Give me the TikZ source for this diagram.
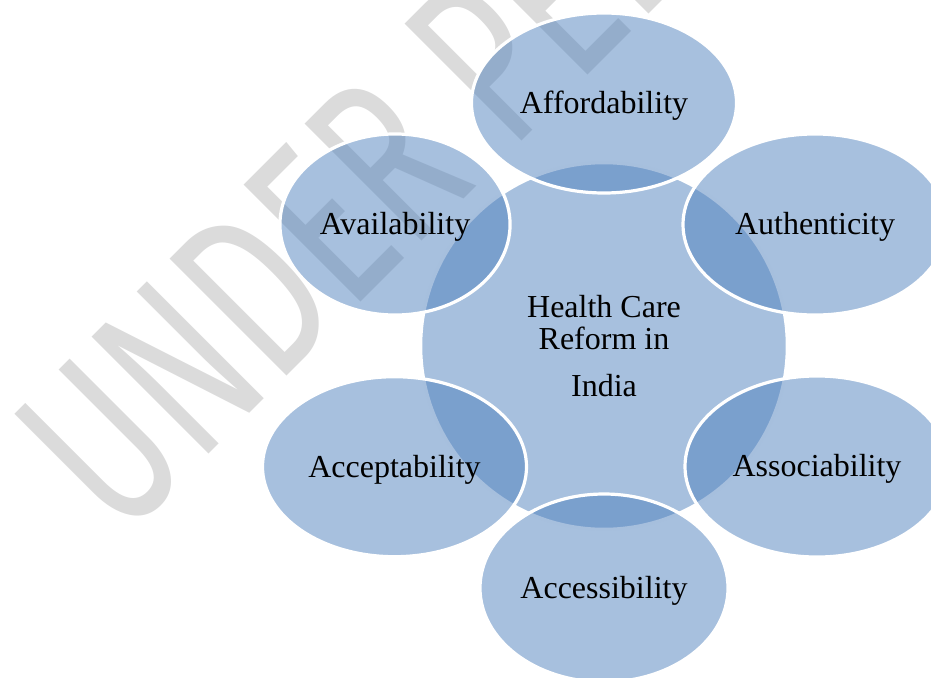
\documentclass[tikz,border=0pt]{standalone}
\usepackage{fontspec}
\setmainfont{Liberation Serif}
\newfontfamily\markfont{Fira Sans}
\usetikzlibrary{shapes.geometric}
\definecolor{petal}{RGB}{79,129,189}
\definecolor{markgray}{RGB}{219,219,219}

\begin{document}
\begin{tikzpicture}[x = 0.375pt, y = 0.375pt,
                    blob/.style = {ellipse, draw = white, line width = 1.2pt, fill = petal,
                                   fill opacity = 0.5, text opacity = 1, inner sep = 0pt,
                                   align = center, font = \fontsize{12}{12.2}\selectfont},
                    leaf/.style = {blob, text height = 10pt, text depth = 2.2pt}]
                    \useasboundingbox (0, 0) rectangle (931, 677);
                    \clip (0, 0) rectangle (931, 677);
                    % watermark behind the diagram
                    \node[anchor = base west, rotate = 45, xscale = 0.675, inner sep = 0pt,
                          text = markgray, font = \markfont\fontsize{90}{90}\selectfont]
                          (Mark) at (121, 135) {UNDER PEER REVIEW};

                    \node[blob, minimum size = 137.5pt] (Reform) at (604, 331)
                          {Health Care\\Reform in\\[5.3pt]India};
                    \node[leaf, minimum width = 99.4pt, minimum height = 67.5pt] (Afford) at (604, 574) {Affordability};
                    \node[leaf, minimum width = 99pt,   minimum height = 67.9pt] (Authen) at (815, 452.5) {Authenticity};
                    \node[leaf, minimum width = 99pt,   minimum height = 67.9pt] (Assoc)  at (817, 210.5) {Associability};
                    \node[leaf, minimum width = 93pt,   minimum height = 70.5pt] (Access) at (604, 89) {Accessibility};
                    \node[leaf, minimum width = 99pt,   minimum height = 67.5pt] (Accept) at (394.5, 210.3) {Acceptability};
                    \node[leaf, minimum width = 86.3pt, minimum height = 67.9pt] (Avail)  at (395, 452.5) {Availability};
                \end{tikzpicture}
\end{document}
